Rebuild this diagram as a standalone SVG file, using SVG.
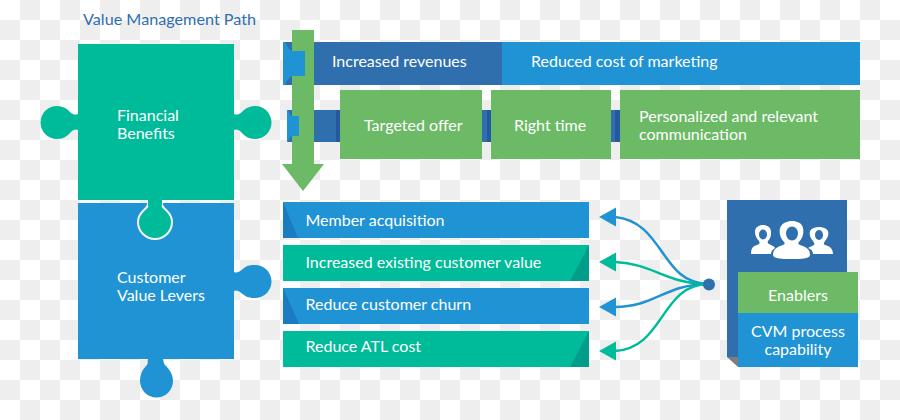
<svg xmlns="http://www.w3.org/2000/svg" width="900" height="420" viewBox="0 0 900 420">
<style>
text{font-family:"Lato","Open Sans",sans-serif;fill:#fff;font-size:16px}
.g{fill:#00bb99}.b{fill:#1f93d4}.d{fill:#2f6fae}.l{fill:#6cb966}
.s{fill:#24589f}.bd{fill:#1a7cc0}.gd{fill:#009d8b}
</style>
<defs>
<pattern id="ck" width="40" height="40" patternUnits="userSpaceOnUse">
<rect width="40" height="40" fill="#fff"/><rect x="20" width="20" height="20" fill="#eee"/><rect y="20" width="20" height="20" fill="#eee"/>
</pattern>
</defs>
<rect width="900" height="420" fill="url(#ck)"/>
<text x="83" y="25" style="fill:#2f6fae;font-size:16.2px">Value Management Path</text>
<g id="customer">
<path class="b" d="M78 203H234V272C238 274 241 270 244 268C248 265 251 265 255 265A16.500 16.500 0 0 1 255 298C251 298 248 298 244 295C241 293 238 289 234 291V359H148C147 362 149 363 146 366C142 370 140 375 140 381A16.500 16.500 0 0 0 173 381C173 375 170 370 166 366C163 363 164 362 163 359H78Z"/>
<text x="117" y="283">Customer</text><text x="117" y="301">Value Levers</text>
</g>
<g id="financial">
<path class="g" stroke="#f4f4f4" stroke-width="2" d="M148 198V203C149 206 146 208 143 211C140 214 138 218 138 222A17 17 0 0 0 172 222C172 218 170 214 167 211C164 208 161 206 162 203V198Z"/>
<path class="g" d="M78 44H234V114C238 116 241 113 244 110C248 107 251 106 255 106A16.500 16.500 0 0 1 255 139C251 139 248 138 244 135C241 132 238 128 234 130V200H78V130C74 128 71 132 68 135C64 138 61 139 57 139A16.500 16.500 0 0 1 57 106C61 106 64 107 68 110C71 113 74 116 78 114Z"/>
<path class="g" d="M148 199H162V206H148Z"/>
<text x="117" y="121">Financial</text><text x="117" y="139">Benefits</text>
</g>
<g id="benefit-bar">
<rect class="d" x="283" y="42" width="220" height="43"/>
<rect class="b" x="502" y="42" width="358" height="43"/>
<text x="332" y="67">Increased revenues</text><text x="531" y="67">Reduced cost of marketing</text>
</g>
<g id="timing-bar">
<rect class="d" x="287" y="110" width="570" height="32"/>
<rect class="s" x="336" y="110" width="4" height="32"/><rect class="s" x="487" y="110" width="4" height="32"/><rect class="s" x="615" y="110" width="5" height="32"/>
</g>
<g id="targeted"><rect class="l" x="340" y="90" width="142" height="69"/><text x="364" y="131">Targeted offer</text></g>
<g id="right-time"><rect class="l" x="491" y="90" width="120" height="69"/><text x="514" y="131">Right time</text></g>
<g id="personalized"><rect class="l" x="620" y="90" width="240" height="69"/><text x="639" y="122">Personalized and relevant</text><text x="639" y="140">communication</text></g>
<path id="path-arrow" class="l" d="M292 30H314V164H324L303 191L282 164H292Z"/>
<g id="arrow-tags">
<path class="b" d="M283 42H292V51H305V76H292V85H283Z"/>
<path class="d" d="M285 42H292V51C290 50 287 47 285 42ZM285 85H292V76C290 77 287 80 285 85Z"/>
<path class="b" d="M287 110H292V116H299V136H292V142H287Z"/>
<path class="d" d="M288 110H292V116C290 115 289 113 288 110ZM288 142H292V136C290 137 289 139 288 142Z"/>
</g>
<g id="member"><rect class="b" x="283" y="202" width="306" height="36"/><path class="bd" d="M283 202L298 238H283Z"/><text x="305.500" y="226">Member acquisition</text></g>
<g id="existing"><rect class="g" x="283" y="245" width="306" height="36"/><path class="gd" d="M589 245L570 281H589Z"/><text x="305.500" y="268">Increased existing customer value</text></g>
<g id="churn"><rect class="b" x="283" y="288" width="306" height="36"/><path class="bd" d="M283 288L299 324H283Z"/><text x="305.500" y="310">Reduce customer churn</text></g>
<g id="atl"><rect class="g" x="283" y="331" width="306" height="36"/><path class="gd" d="M589 331L570 367H589Z"/><text x="305.500" y="352">Reduce ATL cost</text></g>
<g id="connectors" fill="none" stroke-width="2.500">
<path stroke="#1f93d4" d="M615 217C665 222 660 284 709 284"/>
<path stroke="#00bb99" d="M615 262C655 264 665 284 709 284"/>
<path stroke="#1f93d4" d="M615 307C655 307 665 284 709 284"/>
<path stroke="#00bb99" d="M615 351C665 348 660 284 709 284"/>
<path d="M599 217L616 207.500V226.500Z" class="b"/><path d="M599 262L616 252.500V271.500Z" class="g"/><path d="M599 307L616 297.500V316.500Z" class="b"/><path d="M599 351L616 341.500V360.500Z" class="g"/>
<circle cx="709" cy="284.500" r="6" class="d"/>
</g>
<g id="enablers">
<rect class="d" x="727" y="200" width="120" height="157"/>
<path d="M727 357L738 367V357Z" fill="#7d7d7d"/>
<g id="people">
<path fill="#fff" d="M751 254C751 248 753 246 757 245C760 244 760 243 759 241C756 238 755 235 755 232C755 227 759 225 763 225C767 225 771 227 771 232C771 235 771 238 768 241C767 243 768 244 771 245C773 246 775 247 775 248C772 250 771 252 771 254Z"/>
<ellipse cx="763" cy="234.500" rx="4" ry="5" class="d"/>
<path fill="#fff" d="M773 255C773 249 777 247 783 245C785 244 785 243 784 242C780 238 779 233 780 228C782 223 787 221 792 221C797 221 802 223 803 228C804 233 803 238 799 242C798 243 798 244 800 245C806 247 810 249 810 255C810 259 800 259 792 259C783 259 773 259 773 255Z"/>
<ellipse cx="792" cy="233.500" rx="6" ry="7" class="d"/>
<path fill="#fff" d="M808 248C810 247 812 246 814 245C815 244 814 243 813 241C810 238 809 234 810 231C812 228 815 227 819 227C823 227 826 228 828 231C829 234 828 238 825 241C824 243 823 244 825 245C830 246 833 249 833 254H813C813 251 811 249 808 248Z"/>
<ellipse cx="819" cy="235" rx="4" ry="5" class="d"/>
</g>
<rect class="l" x="738" y="272" width="120" height="42"/>
<rect class="b" x="738" y="313" width="120" height="54"/>
<text x="798" y="301" text-anchor="middle">Enablers</text>
<text x="798" y="337" text-anchor="middle">CVM process</text>
<text x="798" y="355" text-anchor="middle">capability</text>
</g>
</svg>
